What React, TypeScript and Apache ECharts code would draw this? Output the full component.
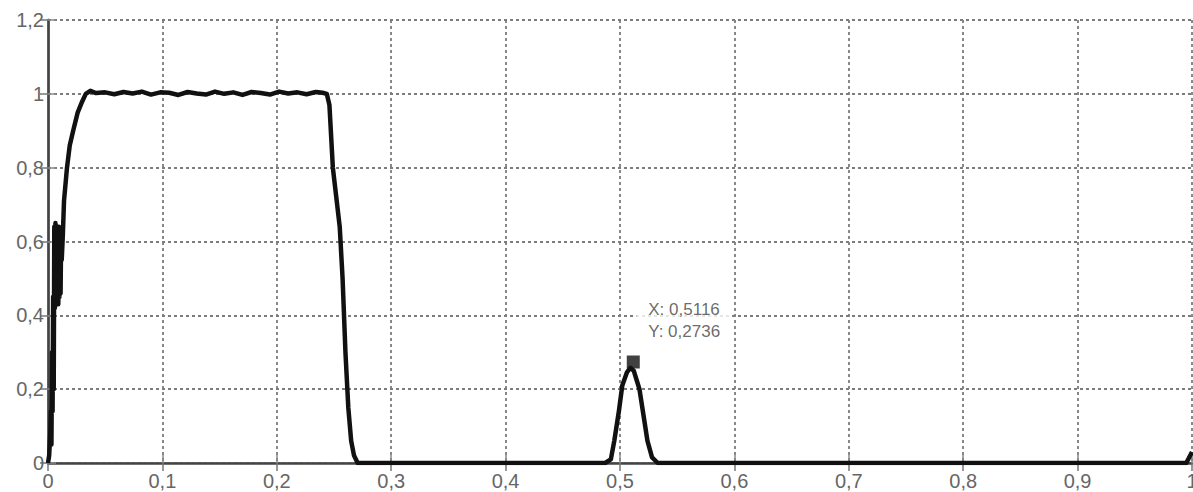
import React, { useEffect, useRef } from "react";
import * as echarts from "echarts";

// Signal curve (x, y)
const curveX: number[] = [
  0, 0.001, 0.002, 0.0025, 0.003, 0.0035, 0.004, 0.0045, 0.005, 0.0055, 0.006, 0.0065, 0.007, 0.0075, 0.008,
  0.0085, 0.009, 0.0095, 0.01, 0.0105, 0.011, 0.0115, 0.012, 0.013, 0.014, 0.0166, 0.019, 0.022, 0.026, 0.03,
  0.033, 0.037, 0.042, 0.05, 0.058, 0.066, 0.074, 0.082, 0.09, 0.098, 0.106, 0.114, 0.122, 0.13, 0.138, 0.146,
  0.154, 0.162, 0.17, 0.178, 0.186, 0.194, 0.202, 0.21, 0.218, 0.226, 0.234, 0.24, 0.2437, 0.246, 0.249, 0.252,
  0.255, 0.2575, 0.26, 0.2625, 0.265, 0.2675, 0.2707, 0.487, 0.492, 0.495, 0.499, 0.502, 0.506, 0.509,
  0.512, 0.515, 0.517, 0.521, 0.524, 0.528, 0.533, 0.995, 1.0,
];
const curveY: number[] = [
  0, 0.02, 0.08, 0.14, 0.05, 0.3, 0.14, 0.45, 0.2, 0.64, 0.42, 0.65, 0.43, 0.64, 0.44,
  0.64, 0.43, 0.64, 0.45, 0.63, 0.46, 0.62, 0.55, 0.62, 0.71, 0.8, 0.86, 0.9, 0.95, 0.98,
  1.0, 1.008, 1.002, 1.004, 0.999, 1.005, 1.001, 1.006, 0.998, 1.004, 1.003, 0.997, 1.005, 1.001, 0.998, 1.006,
  1.0, 1.004, 0.997, 1.005, 1.002, 0.998, 1.006, 1.001, 1.004, 0.999, 1.005, 1.003, 1.0, 0.97, 0.8, 0.72,
  0.64, 0.5, 0.3, 0.15, 0.06, 0.02, 0, 0, 0.01, 0.06, 0.14, 0.21, 0.245, 0.258,
  0.25, 0.22, 0.2, 0.12, 0.06, 0.015, 0, 0, 0.03,
];

// Data tip
const tipX = 0.5116;
const tipY = 0.2736;

// Axis ticks
const xTicks = { min: 0, max: 1, interval: 0.1 };
const yTicks = { min: 0, max: 1.2, interval: 0.2 };

const fmt = (v: number) => {
  const r = Math.round(v * 10000) / 10000;
  return String(r).replace(".", ",");
};

export default function App() {
  const ref = useRef<HTMLDivElement>(null);
  useEffect(() => {
    if (!ref.current) return;
    const chart = echarts.init(ref.current, null, { renderer: "svg" });
    const font = "'Liberation Sans', Arial, sans-serif";
    const gridLine = { show: true, lineStyle: { color: "#7c7c7c", width: 1.8, type: [3, 3] as any } };
    const data = curveX.map((x, i) => [x, curveY[i]]);
    chart.setOption({
      animation: false,
      backgroundColor: "#fff",
      grid: { left: 48, right: 1, top: 20, bottom: 29, containLabel: false, outerBoundsMode: "none" },
      xAxis: [
        {
          type: "value",
          min: xTicks.min,
          max: xTicks.max,
          interval: xTicks.interval,
          position: "bottom",
          axisLine: { show: true, lineStyle: { color: "#9a9a9a", width: 1.5 } },
          axisTick: { show: true, inside: true, length: 8, lineStyle: { color: "#8a8a8a", width: 1.5 } },
          axisLabel: {
            margin: 8,
            color: "#666",
            fontSize: 20,
            fontFamily: font,
            formatter: (v: number) => fmt(v),
          },
          splitLine: gridLine,
        },
        {
          type: "value",
          min: xTicks.min,
          max: xTicks.max,
          interval: xTicks.interval,
          position: "top",
          axisLine: { show: true, lineStyle: { color: "#444", width: 2.5 } },
          axisTick: { show: true, inside: true, length: 8, lineStyle: { color: "#777", width: 1.5 } },
          axisLabel: { show: false },
          splitLine: { show: false },
        },
      ],
      yAxis: [
        {
          type: "value",
          min: yTicks.min,
          max: yTicks.max,
          interval: yTicks.interval,
          position: "left",
          axisLine: { show: true, lineStyle: { color: "#a8a8a8", width: 3 } },
          axisTick: { show: true, inside: true, length: 8, lineStyle: { color: "#8a8a8a", width: 1.5 } },
          axisLabel: {
            margin: 4,
            color: "#666",
            fontSize: 20,
            fontFamily: font,
            formatter: (v: number) => fmt(v),
          },
          splitLine: gridLine,
        },
        {
          type: "value",
          min: yTicks.min,
          max: yTicks.max,
          interval: yTicks.interval,
          position: "right",
          axisLine: { show: true, lineStyle: { color: "#444", width: 2.5 } },
          axisTick: { show: true, inside: true, length: 8, lineStyle: { color: "#777", width: 1.5 } },
          axisLabel: { show: false },
          splitLine: { show: false },
        },
      ],
      series: [
        {
          type: "line",
          data,
          showSymbol: false,
          symbol: "none",
          smooth: false,
          lineStyle: { color: "#111", width: 4.5, join: "round" as any },
          z: 3,
        },
        {
          type: "scatter",
          data: [[tipX, tipY]],
          symbol: "rect",
          symbolSize: 13,
          itemStyle: { color: "#111" },
          z: 5,
          label: {
            show: true,
            position: [9.5, -64.5],
            align: "left",
            verticalAlign: "top",
            formatter: () => `X: ${fmt(tipX)}\nY: ${fmt(tipY)}`,
            backgroundColor: "#fff",
            padding: [8, 12, 8, 12],
            lineHeight: 22,
            fontSize: 17,
            fontFamily: font,
            color: "#444",
          },
        },
      ],
    });
    return () => chart.dispose();
  }, []);
  return (
    <div
      ref={ref}
      style={{ position: "fixed", left: 0, top: 0, width: 1193, height: 492, background: "#fff" }}
    />
  );
}
